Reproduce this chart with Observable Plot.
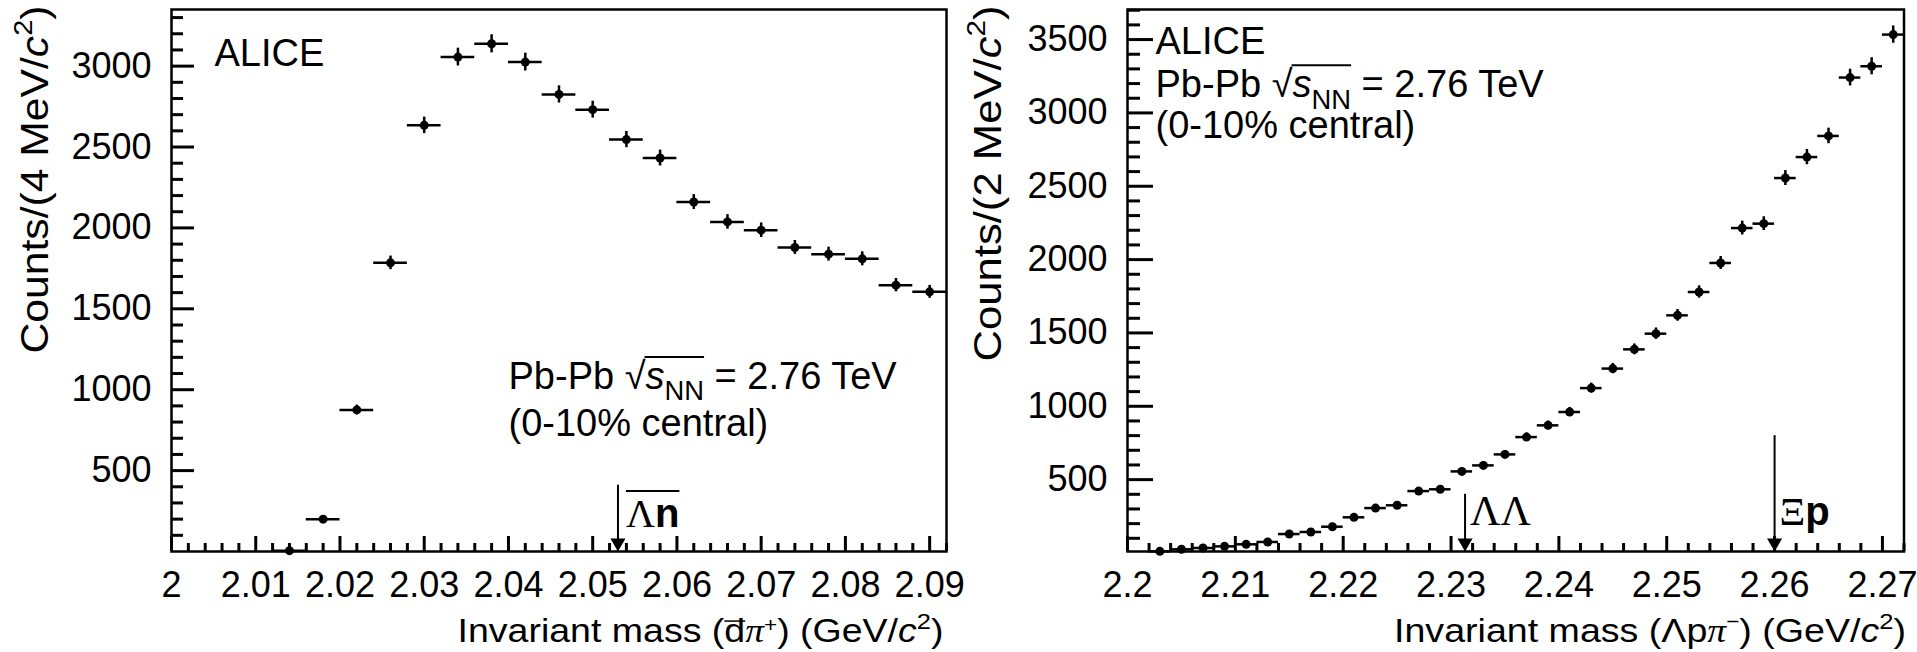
<!DOCTYPE html>
<html>
<head>
<meta charset="utf-8">
<script src="https://cdn.jsdelivr.net/npm/d3@7"></script>
<script src="https://cdn.jsdelivr.net/npm/@observablehq/plot@0.6"></script>
<style>
  html, body { margin: 0; padding: 0; background: #fff; }
  #wrap { display: flex; width: 1917px; height: 652px; background: #fff; }
  #wrap > svg { flex: none; display: block; overflow: visible; background: transparent; }
</style>
</head>
<body>
<div id="wrap"></div>
<script>
// ---------------- data: left panel (anti-d pi+) ----------------
const leftMass = [2.014, 2.018, 2.022, 2.026, 2.030, 2.034, 2.038, 2.042, 2.046, 2.050,
                  2.054, 2.058, 2.062, 2.066, 2.070, 2.074, 2.078, 2.082, 2.086, 2.090];
const leftCounts = [5, 200, 875, 1784, 2634, 3056, 3138, 3025, 2825, 2731,
                    2546, 2432, 2160, 2037, 1986, 1879, 1838, 1809, 1646, 1605];
const leftErr = [2, 14, 30, 42, 51, 55, 56, 55, 53, 52, 50, 49, 46, 45, 45, 43, 43, 43, 41, 40];
const leftHalfBin = 0.002;
const leftXTicks = [2.00, 2.01, 2.02, 2.03, 2.04, 2.05, 2.06, 2.07, 2.08, 2.09];
const leftYTicks = [500, 1000, 1500, 2000, 2500, 3000];
const leftArrows = [{x: 2.053, top: 410, label: "Λn"}];

// ---------------- data: right panel (Lambda p pi-) ----------------
const rightMass = [2.203, 2.205, 2.207, 2.209, 2.211, 2.213, 2.215, 2.217, 2.219, 2.221,
                   2.223, 2.225, 2.227, 2.229, 2.231, 2.233, 2.235, 2.237, 2.239, 2.241,
                   2.243, 2.245, 2.247, 2.249, 2.251, 2.253, 2.255, 2.257, 2.259, 2.261,
                   2.263, 2.265, 2.267, 2.269, 2.271];
const rightCounts = [11, 25, 34, 45, 59, 75, 129, 143, 179, 243,
                     306, 325, 422, 434, 556, 597, 672, 790, 870, 961,
                     1124, 1257, 1388, 1495, 1620, 1779, 1977, 2215, 2245, 2556,
                     2699, 2843, 3241, 3318, 3534];
const rightErr = [3, 5, 6, 7, 8, 9, 11, 12, 13, 16, 17, 18, 21, 21, 24, 24, 26, 28, 29, 31,
                  34, 35, 37, 39, 40, 42, 44, 47, 47, 51, 52, 53, 57, 58, 59];
const rightHalfBin = 0.001;
const rightXTicks = [2.20, 2.21, 2.22, 2.23, 2.24, 2.25, 2.26, 2.27];
const rightYTicks = [500, 1000, 1500, 2000, 2500, 3000, 3500];
const rightArrows = [{x: 2.2313, top: 400, label: "ΛΛ"}, {x: 2.260, top: 800, label: "Ξp"}];

// ---------------- text ----------------
const alice = "ALICE";
const collision = "Pb-Pb √sNN = 2.76 TeV";
const centrality = "(0-10% central)";
const leftYTitle = "Counts/(4 MeV/c2)";
const rightYTitle = "Counts/(2 MeV/c2)";
const leftXTitle = "Invariant mass (dπ+) (GeV/c2)";
const rightXTitle = "Invariant mass (Λpπ-) (GeV/c2)";

const SERIF = "Liberation Serif, Times New Roman, serif";
const SANS = "Liberation Sans, Arial, Helvetica, sans-serif";
const NS = "http://www.w3.org/2000/svg";

const fmtX = d => String(+(+d).toFixed(3));
const fmtY = d => String(d);

function minorTicks(lo, hi, step, majors) {
  const out = [];
  const n = Math.floor((hi - lo) / step + 1e-6);
  for (let i = 0; i <= n; i++) {
    const v = +(lo + i * step).toFixed(6);
    if (!majors.some(m => Math.abs(m - v) < step / 10)) out.push(v);
  }
  return out;
}

function panel(cfg) {
  const H = 652, mt = 9, mb = 101;
  const frameW = cfg.width - cfg.ml - cfg.mr;
  const frameH = H - mt - mb;
  const [x0, x1] = cfg.xDomain;
  const [y0, y1] = cfg.yDomain;
  const xPerPx = (x1 - x0) / frameW;
  const yPerPx = (y1 - y0) / frameH;
  const idx = d3.range(cfg.mass.length);
  const xMinor = minorTicks(x0, x1, cfg.xMinorStep, cfg.xTicks);
  const yMinor = minorTicks(100, y1, 100, cfg.yTicks).filter(v => v > y0);
  const yTickRows = cfg.yTicks.map(v => ({v, len: cfg.yMajorLen}))
    .concat(yMinor.map(v => ({v, len: cfg.yMinorLen})));
  const xTickRows = cfg.xTicks.map(v => ({v, len: 15}))
    .concat(xMinor.map(v => ({v, len: 8})));
  return Plot.plot({
    width: cfg.width,
    height: H,
    marginLeft: cfg.ml,
    marginRight: cfg.mr,
    marginTop: mt,
    marginBottom: mb,
    style: {background: "transparent", color: "black", fontFamily: SANS, overflow: "visible"},
    x: {domain: cfg.xDomain, label: null},
    y: {domain: cfg.yDomain, label: null},
    marks: [
      // tick labels
      Plot.axisY(cfg.yTicks, {tickSize: 0, tickPadding: 20, fontSize: 36, tickFormat: fmtY, label: null}),
      Plot.axisX(cfg.xTicks, {tickSize: 0, tickPadding: 20, fontSize: 36, tickFormat: fmtX, label: null}),
      // data: horizontal (bin width) and vertical (stat.) error bars + markers
      Plot.ruleY(idx, {x1: i => cfg.mass[i] - cfg.half, x2: i => cfg.mass[i] + cfg.half, y: i => cfg.counts[i], stroke: "black", strokeWidth: 2.5}),
      Plot.ruleX(idx, {x: i => cfg.mass[i], y1: i => cfg.counts[i] - cfg.err[i], y2: i => cfg.counts[i] + cfg.err[i], stroke: "black", strokeWidth: 2.5}),
      Plot.dot(idx, {x: i => cfg.mass[i], y: i => cfg.counts[i], r: 4.5, fill: "black", stroke: null}),
      // threshold arrows
      Plot.ruleX(cfg.arrows, {x: "x", y1: y0, y2: "top", stroke: "black", strokeWidth: 2}),
      Plot.dot(cfg.arrows, {x: "x", y: y0, symbol: "triangle", r: 5.6, rotate: 180, dy: -8.7, fill: "black", stroke: null}),
      Plot.text(cfg.arrows, {x: "x", y: y0, text: "label", dx: cfg.arrowDx, dy: cfg.arrowDy, textAnchor: "start", lineAnchor: "bottom", fontSize: 40}),
      // inward ticks (ROOT style)
      Plot.ruleY(yTickRows, {y: "v", x1: x0, x2: d => x0 + d.len * xPerPx, stroke: "black", strokeWidth: 3}),
      Plot.ruleX(xTickRows, {x: "v", y1: y0, y2: d => y0 + d.len * yPerPx, stroke: "black", strokeWidth: 3}),
      // frame
      Plot.frame({stroke: "black", strokeWidth: 2.5}),
      // labels
      Plot.text([alice], {text: d => d, frameAnchor: "top-left", dx: cfg.aliceDx, dy: cfg.aliceDy, textAnchor: "start", lineAnchor: "bottom", fontSize: 38}),
      Plot.text([collision], {text: d => d, frameAnchor: "top-left", dx: cfg.infoDx, dy: cfg.infoDy, textAnchor: "start", lineAnchor: "bottom", fontSize: 38}),
      Plot.text([centrality], {text: d => d, frameAnchor: "top-left", dx: cfg.infoDx, dy: cfg.infoDy2, textAnchor: "start", lineAnchor: "bottom", fontSize: 38}),
      Plot.text([cfg.yTitle], {text: d => d, frameAnchor: "top-left", rotate: -90, dx: cfg.yTitleDx, dy: -4, textAnchor: "end", lineAnchor: "bottom", fontSize: 39}),
      Plot.text([cfg.xTitle], {text: d => d, frameAnchor: "bottom-right", dx: cfg.xTitleDx, dy: 90.7, textAnchor: "end", lineAnchor: "bottom", fontSize: 33})
    ]
  });
}

const left = panel({
  width: 960, ml: 171, mr: 14,
  xDomain: [2.0, 2.092], yDomain: [0, 3350],
  mass: leftMass, counts: leftCounts, err: leftErr, half: leftHalfBin,
  xTicks: leftXTicks, yTicks: leftYTicks, xMinorStep: 0.002,
  yMajorLen: 23, yMinorLen: 12,
  arrows: leftArrows, arrowDx: 8, arrowDy: -24.5,
  aliceDx: 43, aliceDy: 56, infoDx: 337, infoDy: 379.3, infoDy2: 426,
  yTitle: leftYTitle, yTitleDx: -124, xTitle: leftXTitle, xTitleDx: -3
});
const right = panel({
  width: 957, ml: 167, mr: 13.5,
  xDomain: [2.2, 2.272], yDomain: [10, 3705],
  mass: rightMass, counts: rightCounts, err: rightErr, half: rightHalfBin,
  xTicks: rightXTicks, yTicks: rightYTicks, xMinorStep: 0.002,
  yMajorLen: 26, yMinorLen: 13,
  arrows: rightArrows, arrowDx: 5, arrowDy: -27,
  aliceDx: 28, aliceDy: 44.3, infoDx: 28, infoDy: 87.7, infoDy2: 128.5,
  yTitle: rightYTitle, yTitleDx: -127, xTitle: rightXTitle, xTitleDx: 2
});
const wrap = document.getElementById("wrap");
wrap.appendChild(left);
wrap.appendChild(right);

// ---------------- rich text (italic, sub/superscripts, overlines) ----------------
function applyRich(root, plain, segs, size, opts = {}) {
  const els = Array.from(root.querySelectorAll("text")).filter(t => t.textContent === plain);
  for (const el of els) {
    while (el.firstChild) el.removeChild(el.firstChild);
    let shift = 0, idx = 0;
    const ranges = [];
    for (const s of segs) {
      const ts = document.createElementNS(NS, "tspan");
      ts.textContent = s.t;
      ts.setAttribute("font-size", size * (s.scale || 1));
      if (s.italic) ts.setAttribute("font-style", "italic");
      if (s.bold) ts.setAttribute("font-weight", "bold");
      if (s.family) ts.setAttribute("font-family", s.family);
      const sh = (s.shift || 0) * size;
      const dy = shift - sh;
      if (dy) ts.setAttribute("dy", dy);
      shift = sh;
      ranges.push([idx, idx + s.t.length]);
      idx += s.t.length;
      el.appendChild(ts);
    }
    if (opts.textLength) {
      el.setAttribute("textLength", opts.textLength);
      el.setAttribute("lengthAdjust", "spacingAndGlyphs");
    }
    let i = 0;
    while (i < segs.length) {
      if (segs[i].over == null) { i++; continue; }
      let j = i;
      while (j + 1 < segs.length && segs[j + 1].over != null) j++;
      const first = ranges[i][0], last = ranges[j][1] - 1;
      const xa = segs[i].fromPrev ? el.getEndPositionOfChar(first - 1).x - 1 : el.getStartPositionOfChar(first).x;
      const xb = el.getEndPositionOfChar(last).x;
      const base = el.getStartPositionOfChar(first).y + (segs[i].shift || 0) * size;
      const y = base - segs[i].over * size;
      const line = document.createElementNS(NS, "line");
      line.setAttribute("x1", xa); line.setAttribute("x2", xb);
      line.setAttribute("y1", y); line.setAttribute("y2", y);
      line.setAttribute("stroke", "black");
      line.setAttribute("stroke-width", segs[i].overWidth || 2);
      const tr = el.getAttribute("transform");
      if (tr) line.setAttribute("transform", tr);
      el.parentNode.appendChild(line);
      i = j + 1;
    }
  }
}

const sup2 = {t: "2", scale: 0.68, shift: 0.4};
applyRich(wrap, leftYTitle, [{t: "Counts/(4 MeV/"}, {t: "c", italic: true}, sup2, {t: ")"}], 39, {textLength: 348});
applyRich(wrap, rightYTitle, [{t: "Counts/(2 MeV/"}, {t: "c", italic: true}, sup2, {t: ")"}], 39, {textLength: 356});
applyRich(wrap, leftXTitle, [{t: "Invariant mass ("}, {t: "d", over: 0.64, overWidth: 1.5}, {t: "π", family: SERIF, italic: true},
  {t: "+", scale: 0.6, shift: 0.3}, {t: ") (GeV/"}, {t: "c", italic: true}, sup2, {t: ")"}], 33, {textLength: 486});
applyRich(wrap, rightXTitle, [{t: "Invariant mass (Λp"}, {t: "π", family: SERIF, italic: true},
  {t: "−", scale: 0.6, shift: 0.42}, {t: ") (GeV/"}, {t: "c", italic: true}, sup2, {t: ")"}], 33, {textLength: 512});
applyRich(wrap, collision, [{t: "Pb-Pb "}, {t: "√"}, {t: "s", italic: true, over: 0.84, fromPrev: true},
  {t: "NN", scale: 0.72, shift: -0.3, over: 0.84}, {t: " = 2.76 TeV"}], 38);
applyRich(wrap, "Λn", [{t: "Λ", family: SERIF, over: 0.9}, {t: "n", bold: true, over: 0.9}], 40);
applyRich(wrap, "ΛΛ", [{t: "ΛΛ", family: SERIF}], 42);
applyRich(wrap, "Ξp", [{t: "Ξ", family: SERIF}, {t: "p", bold: true}], 40);
</script>
</body>
</html>
